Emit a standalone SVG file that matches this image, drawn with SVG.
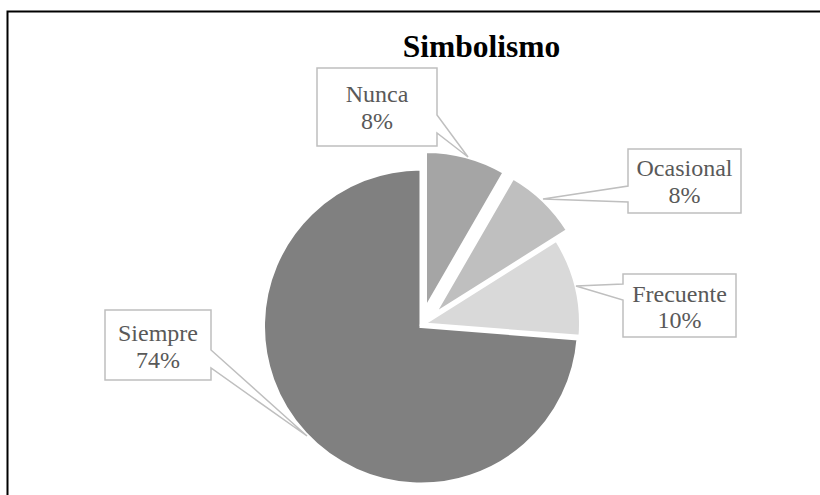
<svg xmlns="http://www.w3.org/2000/svg" width="820" height="495" viewBox="0 0 820 495">
<style>
.bg{fill:#fff}
.frame{fill:none;stroke:#000;stroke-width:2}
.slice{stroke:#fff;stroke-width:3;stroke-linejoin:miter}
.callout{fill:#fff;stroke:#bfbfbf;stroke-width:1.5}
.lbl{font-family:"Liberation Serif","Times New Roman",serif;font-size:24px;fill:#595959;text-anchor:middle}
.title{font-family:"Liberation Serif","Times New Roman",serif;font-size:31.5px;font-weight:bold;fill:#000;text-anchor:middle}
</style>
<rect class="bg" x="0" y="0" width="820" height="495"/>
<path class="frame" d="M7.5,495 V11.5 H820"/>
<text class="title" x="481.5" y="57">Simbolismo</text>
<g id="pie">
<g id="slice-siempre"><path class="slice" fill="#808080" d="M421,326.5 L578,338.9 A157.5,157.5 0 1,1 421,169 Z"/></g>
<g id="slice-nunca"><path class="slice" fill="#a5a5a5" d="M425.5,308.5 L425.5,151.5 A157,157 0 0,1 504,172.5 Z"/></g>
<g id="slice-ocasional"><path class="slice" fill="#bfbfbf" d="M434.5,314 L513,178 A157,157 0 0,1 567.4,230.3 Z"/></g>
<g id="slice-frecuente"><path class="slice" fill="#d9d9d9" d="M423.5,324 L556.4,240.3 A157,157 0 0,1 580,336.3 Z"/></g>
</g>
<g id="connectors">
<path class="callout" d="M317,68 H437 V115 L468,157 L437,133 V146 H317 Z"/>
<path class="callout" d="M628,149 H741 V213 H628 V202 L543,199 L628,186 Z"/>
<path class="callout" d="M623,274 H736 V337 H623 V300 L576,286 L623,284 Z"/>
<path class="callout" d="M105,310 H211 V350 L307,436 L211,368 V380 H105 Z"/>
</g>
<g id="label-nunca"><text class="lbl" x="377" y="102">Nunca</text><text class="lbl" x="377" y="129">8%</text></g>
<g id="label-ocasional"><text class="lbl" x="684.5" y="176">Ocasional</text><text class="lbl" x="684.5" y="203">8%</text></g>
<g id="label-frecuente"><text class="lbl" x="679.5" y="302">Frecuente</text><text class="lbl" x="679.5" y="328">10%</text></g>
<g id="label-siempre"><text class="lbl" x="158" y="341">Siempre</text><text class="lbl" x="158" y="368">74%</text></g>
</svg>
